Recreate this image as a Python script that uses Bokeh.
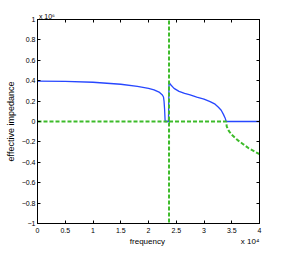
from bokeh.plotting import figure
from bokeh.models import LinearAxis, FixedTicker
from bokeh.embed import file_html
from bokeh.resources import INLINE

# frequency in units of 1e4, impedance in units of 1e6
blue_freq = [0.0, 0.5, 1.0, 1.5, 1.8, 2.0, 2.1, 2.2, 2.25, 2.27, 2.28, 2.29, 2.30, 2.36, 2.37, 2.40, 2.46, 2.55, 2.65, 2.75, 2.87, 3.0, 3.11, 3.2, 3.26, 3.31, 3.35, 3.38, 3.40, 4.0]
blue_imp = [0.395, 0.393, 0.385, 0.365, 0.345, 0.325, 0.31, 0.285, 0.26, 0.24, 0.2, 0.12, 0.0, 0.0, 0.385, 0.36, 0.325, 0.295, 0.275, 0.26, 0.24, 0.22, 0.195, 0.17, 0.14, 0.11, 0.07, 0.035, 0.0, 0.0]

nan = float("nan")
green_freq = [0.0, 2.37, nan, 2.37, 2.37, nan, 2.37, 3.40, 3.41, 3.45, 3.5, 3.6, 3.7, 3.8, 3.9, 4.0]
green_imp = [0.0, 0.0, nan, -1.05, 1.05, nan, 0.0, 0.0, -0.05, -0.095, -0.13, -0.18, -0.22, -0.26, -0.29, -0.32]

x_ticks = [0, 0.5, 1, 1.5, 2, 2.5, 3, 3.5, 4]
x_tick_labels = ["0", "0.5", "1", "1.5", "2", "2.5", "3", "3.5", "4"]
y_ticks = [-1, -0.8, -0.6, -0.4, -0.2, 0, 0.2, 0.4, 0.6, 0.8, 1]
y_tick_labels = ["\u22121", "\u22120.8", "\u22120.6", "\u22120.4", "\u22120.2", "0", "0.2", "0.4", "0.6", "0.8", "1"]
x_title = "frequency"
y_title = "effective impedance"
x_multiplier = "x 10\u2074"
y_multiplier = "x 10\u2076"

FONT = "Liberation Sans"

p = figure(width=286, height=253, x_range=(0, 4), y_range=(-1, 1),
           output_backend="svg", toolbar_location=None,
           min_border_left=37, min_border_right=27, min_border_top=19, min_border_bottom=30,
           y_axis_label=y_title)
p.grid.visible = False
p.outline_line_color = "black"
p.background_fill_color = "white"
p.border_fill_color = "white"

p.line(blue_freq, blue_imp, line_color="#2747ff", line_width=1.3)
p.line(green_freq, green_imp, line_color="#3dbb2a", line_width=2, line_dash="4 2")

def style(ax, ticks, labels):
    ax.ticker = FixedTicker(ticks=ticks)
    ax.major_tick_in = 3
    ax.major_tick_out = 0
    ax.minor_tick_line_color = None
    ax.axis_line_color = "black"
    ax.major_tick_line_color = "black"
    ax.major_label_overrides = {t: l for t, l in zip(ticks, labels)}
    ax.major_label_text_font = FONT
    ax.major_label_text_font_size = "7px"
    ax.major_label_text_color = "black"

xa = p.xaxis[0]
style(xa, x_ticks, x_tick_labels)
xa.major_label_standoff = 4

ya = p.yaxis[0]
style(ya, y_ticks, y_tick_labels)
ya.major_label_standoff = 2
ya.axis_label_standoff = 3
ya.axis_label_text_font = FONT
ya.axis_label_text_font_size = "9px"
ya.axis_label_text_font_style = "normal"
ya.axis_label_text_color = "black"

# top axis: tick marks (as minor ticks) plus the y multiplier text
top = LinearAxis()
top.ticker = FixedTicker(ticks=[0.17], minor_ticks=x_ticks)
top.major_label_overrides = {0.17: y_multiplier}
top.major_tick_line_color = None
top.major_tick_in = 0
top.major_tick_out = 0
top.minor_tick_line_color = "black"
top.minor_tick_in = 3
top.minor_tick_out = 0
top.axis_line_color = "black"
top.major_label_standoff = 0
top.major_label_text_font = FONT
top.major_label_text_font_size = "7px"
top.major_label_text_color = "black"
p.add_layout(top, "above")

# right axis: tick marks only
right = LinearAxis()
right.ticker = FixedTicker(ticks=[], minor_ticks=y_ticks)
right.major_tick_line_color = None
right.minor_tick_line_color = "black"
right.minor_tick_in = 3
right.minor_tick_out = 0
right.axis_line_color = "black"
p.add_layout(right, "right")

# row of texts below the tick labels: axis title and multiplier
lab_x = LinearAxis()
lab_x.ticker = FixedTicker(ticks=[1.98, 3.83])
lab_x.major_label_overrides = {1.98: x_title, 3.83: x_multiplier}
lab_x.axis_line_color = None
lab_x.major_tick_line_color = None
lab_x.minor_tick_line_color = None
lab_x.major_tick_in = 0
lab_x.major_tick_out = 0
lab_x.major_label_standoff = 1
lab_x.major_label_text_font = FONT
lab_x.major_label_text_font_size = "8px"
lab_x.major_label_text_color = "black"
p.add_layout(lab_x, "below")

open("out.html", "w").write(file_html(p, INLINE))
